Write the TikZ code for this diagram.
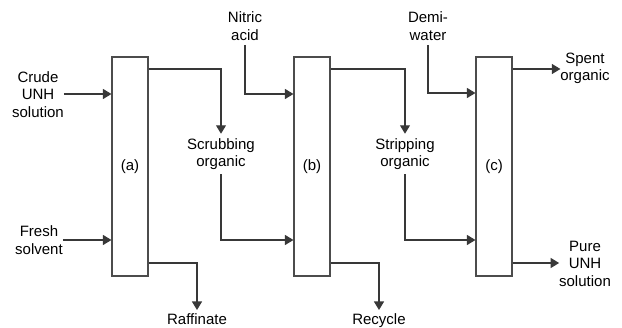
\documentclass[tikz,border=0pt]{standalone}
\usepackage{fontspec}
\setmainfont{Liberation Sans}
\usetikzlibrary{arrows.meta}
\begin{document}
\begin{tikzpicture}[x=1pt,y=-1pt,
  unit/.style={draw=black!70,fill=white,line width=1.1pt,minimum width=36pt,minimum height=219pt,inner sep=0pt,
    font=\fontsize{15}{17.5}\selectfont},
  lab/.style={align=center,inner sep=0pt,outer sep=4.5pt,font=\fontsize{15}{17.5}\selectfont},
  side/.style={align=center,inner sep=0pt,outer sep=0pt,font=\fontsize{15}{17.5}\selectfont},
  arr/.style={draw=black!78,line width=1.1pt,-{Triangle[length=8.5pt,width=10pt]}}]
\useasboundingbox (0,0) rectangle (622,328);
% units
\node[unit] (a) at (130,166.5) {(a)};
\node[unit] (b) at (312,166.5) {(b)};
\node[unit] (c) at (494,166.5) {(c)};
% labels
\node[side] (cr) at (38,94.5) {Crude\\UNH\\solution};
\node[side] (fs) at (39,240) {Fresh\\solvent};
\node[lab] (ni) at (245,26) {Nitric\\acid};
\node[lab] (dw) at (428,26) {Demi-\\water};
\node[lab] (sc) at (221,154) {Scrubbing\\organic};
\node[lab] (st) at (405,154) {Stripping\\organic};
\node[lab,anchor=north,outer sep=4pt] (rf) at (197,310) {Raffinate};
\node[lab,anchor=north,outer sep=4pt] (rc) at (379,310) {Recycle};
\node[side] (sp) at (585,68.5) {Spent\\organic};
\node[side] (pu) at (585,263.5) {Pure\\UNH\\solution};
% streams
\draw[arr] (cr.east |- 0,94) -- (a.west |- 0,94);
\draw[arr] (fs.east |- 0,240) -- (a.west |- 0,240);
\draw[arr] (a.east |- 0,69) -| (sc.north);
\draw[arr] (a.east |- 0,263) -| (rf.north);
\draw[arr] (ni.south) |- (b.west |- 0,94);
\draw[arr] (sc.south) |- (b.west |- 0,240);
\draw[arr] (b.east |- 0,69) -| (st.north);
\draw[arr] (b.east |- 0,263) -| (rc.north);
\draw[arr] (dw.south) |- (c.west |- 0,93);
\draw[arr] (st.south) |- (c.west |- 0,240);
\draw[arr] (c.east |- 0,69) -- (sp.west |- 0,69);
\draw[arr] (c.east |- 0,263) -- (pu.west |- 0,263);
\end{tikzpicture}
\end{document}
